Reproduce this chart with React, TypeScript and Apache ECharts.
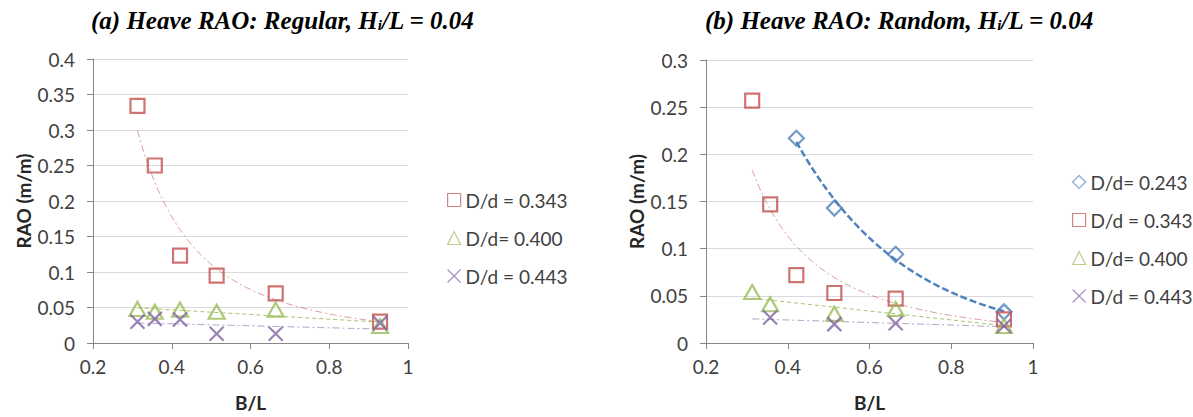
import { useEffect, useRef } from "react";
import * as echarts from "echarts";

// B/L ratios at which the heave RAO was measured
const bL = [0.313, 0.357, 0.421, 0.514, 0.664, 0.929];

// (a) Regular waves, H/L = 0.04
const regular343 = [0.334, 0.25, 0.123, 0.095, 0.07, 0.03];
const regular400 = [0.048, 0.044, 0.047, 0.044, 0.047, 0.024];
const regular443 = [0.03, 0.034, 0.033, 0.013, 0.013, 0.028];

// (b) Random waves, H/L = 0.04
const bL243 = [0.421, 0.514, 0.664, 0.929];
const random243 = [0.217, 0.143, 0.094, 0.033];
const random343 = [0.257, 0.147, 0.072, 0.053, 0.047, 0.025];
const bL400 = [0.313, 0.357, 0.514, 0.664, 0.929];
const random400 = [0.054, 0.041, 0.031, 0.036, 0.018];
const bL443 = [0.357, 0.514, 0.664, 0.929];
const random443 = [0.027, 0.02, 0.021, 0.018];

const xTicks = { min: 0.2, max: 1, interval: 0.2 };
const yTicksA = { min: 0, max: 0.4, interval: 0.05 };
const yTicksB = { min: 0, max: 0.3, interval: 0.05 };

const RED = "#C0504D";
const GREEN = "#9BBB59";
const PURPLE = "#8064A2";
const BLUE = "#4F81BD";
const CROSS = "path://M0,0L10,10M10,0L0,10";
const FONT = "Lato, 'Open Sans', sans-serif";

// least-squares fits, the same kinds of trendline a spreadsheet draws
function stats(xs: number[], ys: number[]) {
  const n = xs.length;
  const mx = xs.reduce((s, v) => s + v, 0) / n;
  const my = ys.reduce((s, v) => s + v, 0) / n;
  let sxy = 0;
  let sxx = 0;
  for (let i = 0; i < n; i++) {
    sxy += (xs[i] - mx) * (ys[i] - my);
    sxx += (xs[i] - mx) ** 2;
  }
  return { mx, my, k: sxy / sxx };
}

function powerFit(xs: number[], ys: number[]) {
  const { mx, my, k } = stats(xs.map(Math.log), ys.map(Math.log));
  return (x: number) => Math.exp(my + k * (Math.log(x) - mx));
}

function expFit(xs: number[], ys: number[]) {
  const { mx, my, k } = stats(xs, ys.map(Math.log));
  return (x: number) => Math.exp(my + k * (x - mx));
}

function linearFit(xs: number[], ys: number[]) {
  const { mx, my, k } = stats(xs, ys);
  return (x: number) => my + k * (x - mx);
}

function trendPoints(fn: (x: number) => number, from: number, to: number) {
  const pts: number[][] = [];
  const steps = 60;
  for (let i = 0; i <= steps; i++) {
    const x = from + ((to - from) * i) / steps;
    pts.push([x, fn(x)]);
  }
  return pts;
}

function markers(
  name: string,
  xs: number[],
  ys: number[],
  symbol: string,
  size: number | number[],
  color: string,
  grid: number
) {
  return {
    name,
    type: "scatter",
    xAxisIndex: grid,
    yAxisIndex: grid,
    symbol,
    symbolSize: size,
    z: 3,
    data: xs.map((x, i) => [x, ys[i]]),
    itemStyle: { color: "rgba(255,255,255,0)", borderColor: color, borderWidth: 2.2 },
    emphasis: { disabled: true },
  };
}

function trend(
  pts: number[][],
  color: string,
  width: number,
  dash: number[],
  grid: number
) {
  return {
    type: "line",
    xAxisIndex: grid,
    yAxisIndex: grid,
    showSymbol: false,
    silent: true,
    z: 2,
    data: pts,
    lineStyle: { color, width, type: dash },
  };
}

const DASH_DOT = [7, 3, 2, 3];
const DASH = [4, 3];

function legendItem(name: string, icon: string, color: string) {
  return {
    name,
    icon,
    itemStyle: { color: "rgba(255,255,255,0)", borderColor: color, borderWidth: 1.2, opacity: 0.7 },
  };
}

function xAxis(grid: number) {
  return {
    type: "value",
    gridIndex: grid,
    ...xTicks,
    name: "B/L",
    nameLocation: "middle",
    nameGap: 50,
    nameTextStyle: { fontFamily: FONT, fontSize: 19, fontWeight: "bold", color: "#262626" },
    axisLine: { show: true, lineStyle: { color: "#868686", width: 1 } },
    axisTick: { show: true, length: 6, lineStyle: { color: "#868686" } },
    axisLabel: { margin: 14, fontFamily: FONT, fontSize: 19, color: "#404040" },
    splitLine: { show: false },
  };
}

function yAxis(grid: number, ticks: typeof yTicksA, gap: number) {
  return {
    type: "value",
    gridIndex: grid,
    ...ticks,
    name: "RAO (m/m)",
    nameLocation: "middle",
    nameGap: gap,
    nameTextStyle: { fontFamily: FONT, fontSize: 19, fontWeight: "bold", color: "#262626" },
    axisLine: { show: true, lineStyle: { color: "#868686", width: 1 } },
    axisTick: { show: true, length: 6, lineStyle: { color: "#868686" } },
    axisLabel: { margin: 18, fontFamily: FONT, fontSize: 19, color: "#404040" },
    splitLine: { show: true, lineStyle: { color: "#D9D9D9", width: 1 } },
  };
}

function titleRich() {
  const base = {
    fontFamily: "'Liberation Serif', 'DejaVu Serif', serif",
    fontStyle: "italic",
    fontWeight: "bold",
    color: "#000",
  };
  return {
    t: { ...base, fontSize: 25, lineHeight: 30 },
    s: { ...base, fontSize: 15, lineHeight: 30, padding: [10, 0, 0, 0] },
  };
}

export default function App() {
  const ref = useRef<HTMLDivElement>(null);

  useEffect(() => {
    if (!ref.current) return;
    const chart = echarts.init(ref.current, null, { renderer: "svg" });

    const span = [bL[0], bL[bL.length - 1]];

    const legendBase = {
      orient: "vertical",
      padding: 0,
      itemGap: 16,
      itemWidth: 13,
      itemHeight: 13,
      selectedMode: false,
      textStyle: { fontFamily: FONT, fontSize: 19, color: "#404040", lineHeight: 22 },
    };

    const option = {
      animation: false,
      backgroundColor: "#fff",
      title: [
        {
          left: 86,
          top: 0,
          text: "{t|(a) Heave RAO: Regular, H}{s|i}{t|/L = 0.04}",
          textStyle: { rich: titleRich() },
        },
        {
          left: 700,
          top: 0,
          text: "{t|(b) Heave RAO: Random, H}{s|i}{t|/L = 0.04}",
          textStyle: { rich: titleRich() },
        },
      ],
      grid: [
        { left: 93, top: 59, width: 315, height: 285 },
        { left: 706, top: 60, width: 327, height: 284 },
      ],
      xAxis: [xAxis(0), xAxis(1)],
      yAxis: [yAxis(0, yTicksA, 60), yAxis(1, yTicksB, 60)],
      legend: [
        {
          ...legendBase,
          left: 447,
          top: 189,
          data: [
            legendItem("D/d = 0.343", "rect", RED),
            legendItem("D/d= 0.400", "triangle", GREEN),
            legendItem("D/d = 0.443", CROSS, PURPLE),
          ],
        },
        {
          ...legendBase,
          left: 1072,
          top: 171,
          data: [
            legendItem("D/d= 0.243", "diamond", BLUE),
            legendItem("D/d = 0.343", "rect", RED),
            legendItem("D/d= 0.400", "triangle", GREEN),
            legendItem("D/d = 0.443", CROSS, PURPLE),
          ],
        },
      ],
      series: [
        // (a) regular waves
        trend(trendPoints(powerFit(bL, regular343), span[0], span[1]), "rgba(192,80,77,0.55)", 1, DASH_DOT, 0),
        trend(trendPoints(linearFit(bL, regular400), span[0], span[1]), "rgba(155,187,89,0.9)", 1, DASH, 0),
        trend(trendPoints(linearFit(bL, regular443), span[0], span[1]), "rgba(128,100,162,0.6)", 1, DASH_DOT, 0),
        markers("D/d = 0.343", bL, regular343, "rect", 14, RED, 0),
        markers("D/d= 0.400", bL, regular400, "triangle", [16, 14], GREEN, 0),
        markers("D/d = 0.443", bL, regular443, CROSS, 14, PURPLE, 0),
        // (b) random waves
        trend(trendPoints(expFit(bL243, random243), bL243[0], bL243[bL243.length - 1]), BLUE, 2.5, [7, 3], 1),
        trend(trendPoints(powerFit(bL, random343), span[0], span[1]), "rgba(192,80,77,0.55)", 1, DASH_DOT, 1),
        trend(trendPoints(linearFit(bL400, random400), span[0], span[1]), "rgba(155,187,89,0.9)", 1, DASH, 1),
        trend(trendPoints(linearFit(bL443, random443), span[0], span[1]), "rgba(128,100,162,0.6)", 1, DASH_DOT, 1),
        markers("D/d= 0.243", bL243, random243, "diamond", 15, BLUE, 1),
        markers("D/d = 0.343", bL, random343, "rect", 14, RED, 1),
        markers("D/d= 0.400", bL400, random400, "triangle", [16, 14], GREEN, 1),
        markers("D/d = 0.443", bL443, random443, CROSS, 14, PURPLE, 1),
      ],
    };

    chart.setOption(option as any);
    return () => chart.dispose();
  }, []);

  return (
    <div
      ref={ref}
      style={{ position: "fixed", left: 0, top: 0, width: 1193, height: 417 }}
    />
  );
}
